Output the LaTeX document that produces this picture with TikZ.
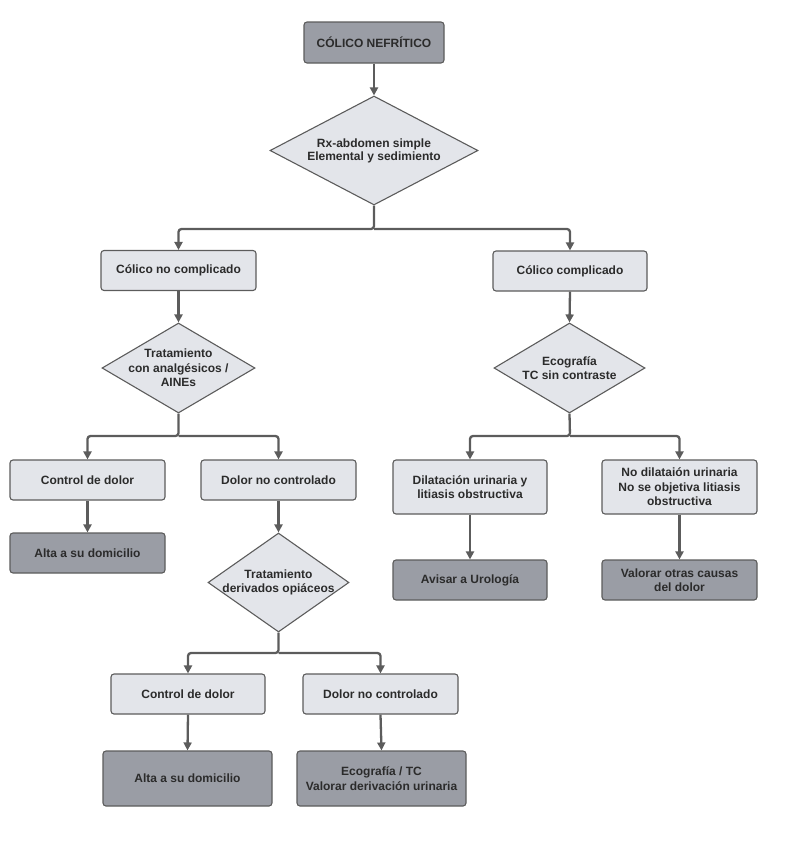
\documentclass[tikz,border=0pt]{standalone}
\usepackage{fontspec}
\setmainfont{Liberation Sans}
\usetikzlibrary{shapes.geometric, arrows.meta}
\definecolor{box-light}{HTML}{E3E5EA}
\definecolor{box-dark}{HTML}{9A9DA5}
\definecolor{edge-gray}{HTML}{5C5C5C}
\definecolor{text-dark}{HTML}{2B2B2B}

\tikzset{
  stepbox/.style={draw=edge-gray, line width=1.1pt, fill=box-light,
    rounded corners=3pt, minimum width=155pt, minimum height=40pt,
    align=center, text=text-dark, font=\fontsize{12}{14.5}\selectfont\bfseries},
  endbox/.style={stepbox, fill=box-dark},
  decision/.style={diamond, aspect=1.7, draw=edge-gray, line width=1.1pt,
    fill=box-light, inner sep=-10pt, align=center, text=text-dark,
    font=\fontsize{12}{14.5}\selectfont\bfseries},
  arr/.style={-{Triangle[length=8pt, width=8pt]}, line width=2.3pt,
    draw=edge-gray, rounded corners=3pt}
}

\begin{document}
\begin{tikzpicture}[x=1pt, y=-1pt]
    % Diagram: renal colic flowchart, coordinates in px of a 788x844 page
    %   left column x=178.5, right column x=570, branch rows y=229, 436, 653
    \useasboundingbox (0,0) rectangle (788,844);
    \node[endbox, minimum width=140pt, minimum height=41pt] (colico) at (374,42.5)
          {CÓLICO NEFRÍTICO};
    \node[decision, minimum width=208pt, minimum height=109pt,
          font=\fontsize{12}{13}\selectfont\bfseries] (rx) at (374,150.5)
          {Rx-abdomen simple\\Elemental y sedimiento};

    \coordinate (br1) at (374,229);
    \node[stepbox] (nocomp) at (178.5,270.5) {Cólico no complicado};
    \node[stepbox, minimum width=154pt] (comp) at (570,271) {Cólico complicado};

    \node[decision, minimum width=153pt, minimum height=90pt] (analg) at (178.5,368)
          {Tratamiento\\con analgésicos /\\AINEs};
    \node[decision, minimum width=151pt, minimum height=90pt] (eco) at (569.5,368)
          {Ecografía\\TC sin contraste};

    % left branch: analgesics
    \coordinate (br2) at (178.5,436);
    \node[stepbox] (ctrlA) at (87.5,480) {Control de dolor};
    \node[stepbox] (noctrlA) at (278.5,480) {Dolor no controlado};
    \node[endbox] (altaA) at (87.5,553) {Alta a su domicilio};
    \node[decision, minimum width=141pt, minimum height=99pt] (opiac) at (278.5,582.5)
          {Tratamiento\\derivados opiáceos};

    % right branch: imaging
    \coordinate (br3) at (570,436);
    \node[stepbox, minimum width=154pt, minimum height=54pt] (dilat) at (470,487)
          {Dilatación urinaria y\\litiasis obstructiva};
    \node[stepbox, minimum height=54pt] (nodilat) at (679.5,487)
          {No dilataión urinaria\\No se objetiva litiasis\\obstructiva};
    \node[endbox, minimum width=154pt] (urolog) at (470,580) {Avisar a Urología};
    \node[endbox] (otras) at (679.5,580) {Valorar otras causas\\del dolor};

    % bottom branch: opioids
    \coordinate (br4) at (278.5,653);
    \node[stepbox, minimum width=154pt] (ctrlB) at (188,694) {Control de dolor};
    \node[stepbox] (noctrlB) at (380.5,694) {Dolor no controlado};
    \node[endbox, minimum width=169pt, minimum height=55pt] (altaB) at (187.5,778.5)
          {Alta a su domicilio};
    \node[endbox, minimum width=169pt, minimum height=55pt] (ecotc) at (381.5,778.5)
          {Ecografía / TC\\Valorar derivación urinaria};

    % connectors
    \draw[arr] (colico.south) -- (rx.north);
    \draw[arr] (rx.south) -- (br1) -| (nocomp.north);
    \draw[arr] (br1) -| (comp.north);
    \draw[arr] (nocomp.south) -- (analg.north);
    \draw[arr] (comp.south) -- (eco.north);
    \draw[arr] (analg.south) -- (br2) -| (ctrlA.north);
    \draw[arr] (br2) -| (noctrlA.north);
    \draw[arr] (ctrlA.south) -- (altaA.north);
    \draw[arr] (noctrlA.south) -- (opiac.north);
    \draw[arr] (eco.south) -- (br3) -| (dilat.north);
    \draw[arr] (br3) -| (nodilat.north);
    \draw[arr] (dilat.south) -- (urolog.north);
    \draw[arr] (nodilat.south) -- (otras.north);
    \draw[arr] (opiac.south) -- (br4) -| (ctrlB.north);
    \draw[arr] (br4) -| (noctrlB.north);
    \draw[arr] (ctrlB.south) -- (altaB.north);
    \draw[arr] (noctrlB.south) -- (ecotc.north);
\end{tikzpicture}
\end{document}
